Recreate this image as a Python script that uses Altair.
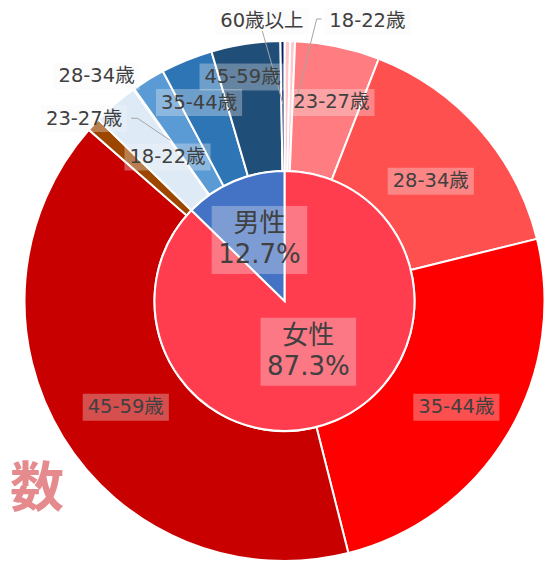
import altair as alt
import numpy as np
import pandas as pd

# ---------------- data ----------------
inner_gender = ["女性", "男性"]
inner_share = [87.3, 12.7]
inner_colors = ["#ff3d4f", "#4472c4"]
inner_pct = ["87.3%", "12.7%"]

outer_gender = ["女性"] * 7 + ["男性"] * 6
outer_age = ["17歳以下", "18-22歳", "23-27歳", "28-34歳", "35-44歳", "45-59歳", "60歳以上",
             "18-22歳", "23-27歳", "28-34歳", "35-44歳", "45-59歳", "60歳以上"]
outer_share = [0.35, 0.30, 5.26, 15.25, 24.89, 40.39, 0.86,
               2.84, 0.05, 2.06, 3.22, 4.28, 0.25]
outer_colors = ["#ffc7ca", "#ffc7ca", "#ff7c80", "#ff5050", "#ff0000", "#c80000", "#9c4600",
                "#deebf7", "#bdd7ee", "#5b9bd5", "#2e75b6", "#1f4e79", "#002060"]

# ---------------- layout (styles) ----------------
W, H = 536, 553
CX, CY = 276.5, 293.0
R_OUT, R_IN = 260, 130
FONT = "DejaVu Sans, Noto Sans CJK JP"
TXT = "#404040"
FS_OUT, FS_IN = 19.5, 26

# label placement: (outer index, label angle deg, label radius px)
outer_label_pos = {1: (16.5, 292), 2: (13.3, 204), 3: (50.7, 189), 4: (121.7, 202),
                   5: (236.2, 191), 7: (320.9, 185.5), 8: (312.3, 271), 9: (320.1, 293),
                   10: (336.7, 216), 11: (349.4, 228), 12: (355.4, 281)}
inner_label_pos = {0: (154.8, 56), 1: (337.7, 66)}
LINE_GAP = 31
# leader lines: outer index -> polar points (start, elbow..., end); end None = slice middle
leaders = {1: [(7.5, 284.5), (6.5, 283.8), (3.5, 203)],
           12: [(355.3, 271), None],
           8: [(320.0, 238.6), (321.2, 234.3), None]}


def pol(a, r):
    t = np.deg2rad(a)
    return CX + r * np.sin(t), CY - r * np.cos(t)


def tw(s, fs):
    w = 0.0
    for ch in s:
        if ord(ch) > 0x2E80:
            w += 1.0
        elif ch.isdigit():
            w += 0.636
        elif ch == "-":
            w += 0.361
        elif ch == ".":
            w += 0.318
        elif ch == "%":
            w += 0.95
        else:
            w += 0.6
    return w * fs


outer = pd.DataFrame({"gender": outer_gender, "age": outer_age, "share": outer_share,
                      "col": outer_colors})
outer["idx"] = range(len(outer))
cum = np.cumsum(outer_share)
mid_ang = (cum - np.array(outer_share) / 2) * 3.6

inner = pd.DataFrame({"gender": inner_gender, "share": inner_share, "col": inner_colors})
inner["idx"] = range(len(inner))

# outer labels
rows = []
for i, (a, r) in outer_label_pos.items():
    x, y = pol(a, r)
    t = outer_age[i]
    w = tw(t, FS_OUT) + 10
    h = 27
    rows.append({"t": t, "x": x, "y": y, "x0": x - w / 2, "x1": x + w / 2,
                 "y0": max(0.0, y - h / 2), "y1": y + h / 2})
lab_out = pd.DataFrame(rows)

# inner labels (two lines each)
rows, brows = [], []
for i, (a, r) in inner_label_pos.items():
    x, y = pol(a, r)
    lines = [inner_gender[i], inner_pct[i]]
    w = max(tw(p, FS_IN) for p in lines) + 13
    h = 68
    brows.append({"x0": x - w / 2, "x1": x + w / 2, "y0": y - h / 2, "y1": y + h / 2})
    rows.append({"t": lines[0], "x": x, "y": y - LINE_GAP / 2})
    rows.append({"t": lines[1], "x": x, "y": y + LINE_GAP / 2})
lab_in = pd.DataFrame(rows)
box_in_df = pd.DataFrame(brows)

rows = []
for i, pts in leaders.items():
    for k, p in enumerate(pts):
        a, r = p if p is not None else (mid_ang[i], 197)
        x, y = pol(a, r)
        rows.append({"lid": i, "ord": k, "x": x, "y": y})
lead = pd.DataFrame(rows)

# ---------------- chart ----------------
theta_scale = alt.Scale(domain=[0, 100])

outer_arc = alt.Chart(outer).mark_arc(
    innerRadius=R_IN, outerRadius=R_OUT, stroke="white", strokeWidth=2
).encode(
    theta=alt.Theta("share:Q", stack=True, scale=theta_scale),
    order=alt.Order("idx:Q"),
    color=alt.Color("col:N", scale=None),
    x=alt.value(CX), y=alt.value(CY),
)

inner_arc = alt.Chart(inner).mark_arc(
    outerRadius=R_IN, stroke="white", strokeWidth=2
).encode(
    theta=alt.Theta("share:Q", stack=True, scale=theta_scale),
    order=alt.Order("idx:Q"),
    color=alt.Color("col:N", scale=None),
    x=alt.value(CX), y=alt.value(CY),
)


def boxes(df):
    return alt.Chart(df).mark_rect(fill="#f6f6f6", opacity=0.32).encode(
        x=alt.X("x0:Q", scale=None), x2="x1:Q",
        y=alt.Y("y0:Q", scale=None), y2="y1:Q",
    )


box_out = boxes(lab_out)
box_in = boxes(box_in_df)

lead_line = alt.Chart(lead).mark_line(color="#a6a6a6", strokeWidth=1).encode(
    x=alt.X("x:Q", scale=None), y=alt.Y("y:Q", scale=None),
    detail="lid:N", order="ord:Q",
)

txt_out = alt.Chart(lab_out).mark_text(
    font=FONT, fontSize=FS_OUT, color=TXT, align="center", baseline="middle"
).encode(x=alt.X("x:Q", scale=None), y=alt.Y("y:Q", scale=None), text="t:N")

txt_in = alt.Chart(lab_in).mark_text(
    font=FONT, fontSize=FS_IN, color=TXT, align="center", baseline="middle"
).encode(x=alt.X("x:Q", scale=None), y=alt.Y("y:Q", scale=None), text="t:N")

frag = alt.Chart(pd.DataFrame({"t": ["女性数"]})).mark_text(
    font="Noto Sans CJK JP", fontSize=54, fontWeight="bold", color="#e58a8d", align="right",
    baseline="middle"
).encode(x=alt.value(56), y=alt.value(483), text="t:N")

chart = alt.layer(
    outer_arc, inner_arc, box_out, box_in, lead_line, txt_out, txt_in, frag
).properties(
    width=W, height=H, padding=0, autosize="none", background="white"
).configure_view(stroke=None)

chart.save("out.html", embed_options={"renderer": "svg", "actions": False})
